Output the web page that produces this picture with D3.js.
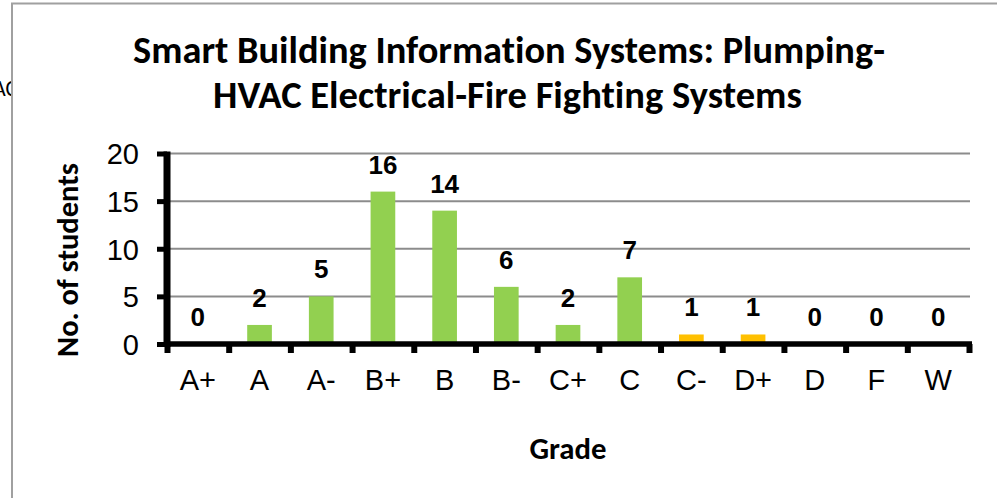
<!DOCTYPE html>
<html>
<head>
<meta charset="utf-8">
<script src="https://cdn.jsdelivr.net/npm/d3@7"></script>
<style>
  html, body { margin: 0; padding: 0; background: #fff; }
  svg { display: block; }
  text { font-variant-ligatures: none; font-feature-settings: "liga" 0; }
</style>
</head>
<body>
<svg id="chart" width="997" height="498"></svg>
<script>
// ---- data ----
const grades = ["A+", "A", "A-", "B+", "B", "B-", "C+", "C", "C-", "D+", "D", "F", "W"];
const counts = [0, 2, 5, 16, 14, 6, 2, 7, 1, 1, 0, 0, 0];
const yTicks = [0, 5, 10, 15, 20];
const orangeGrades = ["C-", "D+"];
const titleLines = ["Smart Building Information Systems: Plumping-", "HVAC Electrical-Fire Fighting Systems"];
const yTitle = "No. of students";
const xTitle = "Grade";

// ---- layout ----
const svg = d3.select("#chart");
const plotLeft = 167, plotRight = 969, plotTop = 153.5, plotBottom = 344;
const green = "#92D050", orange = "#FFC000";
const axisFont = "'Liberation Sans', Arial, sans-serif";
const titleFont = "Carlito, Lato, 'Open Sans', sans-serif";

function fitWidth(sel, target) {
  const base = parseFloat(sel.attr("font-size"));
  const w = sel.node().getComputedTextLength();
  sel.attr("font-size", base * target / w);
}

// stray clipped text at far left (partly hidden behind the chart frame, as in the reference)
svg.append("text").attr("x", -7).attr("y", 96)
  .attr("font-family", titleFont).attr("font-size", 22).attr("fill", "#000").text("AC");
svg.append("rect").attr("x", 12).attr("y", 0).attr("width", 985).attr("height", 498).attr("fill", "#fff");

// border
svg.append("path").attr("d", "M12,498 L12,3.5 L997,3.5")
  .attr("fill", "none").attr("stroke", "#a0a0a0").attr("stroke-width", 2);

const x = d3.scaleBand().domain(grades).range([plotLeft, plotRight]).paddingInner(0.6).paddingOuter(0.3);
const xEdge = d3.scaleLinear().domain([0, grades.length]).range([plotLeft, plotRight]);
const y = d3.scaleLinear().domain([0, 20]).range([plotBottom, plotTop]);

// gridlines
svg.append("g").selectAll("line").data(yTicks.filter(d => d > 0)).join("line")
  .attr("x1", plotLeft).attr("x2", plotRight + 1)
  .attr("y1", d => y(d)).attr("y2", d => y(d))
  .attr("stroke", "#8c8c8c").attr("stroke-width", 2);

// bars
const data = grades.map((g, i) => ({ g, v: counts[i] }));
svg.append("g").selectAll("rect").data(data).join("rect")
  .attr("x", d => x(d.g)).attr("width", x.bandwidth())
  .attr("y", d => y(d.v)).attr("height", d => y(0) - y(d.v))
  .attr("fill", d => orangeGrades.includes(d.g) ? orange : green);

// value labels
svg.append("g").selectAll("text").data(data).join("text")
  .attr("x", d => x(d.g) + x.bandwidth() / 2)
  .attr("y", d => y(d.v) - 18)
  .attr("text-anchor", "middle")
  .attr("font-family", axisFont).attr("font-weight", "bold").attr("font-size", 26)
  .attr("fill", "#000")
  .text(d => d.v);

// y axis
const yAxis = svg.append("g").attr("transform", `translate(${plotLeft},0)`)
  .call(d3.axisLeft(y).tickValues(yTicks).tickSize(10).tickPadding(18));
yAxis.select(".domain").attr("stroke", "#000").attr("stroke-width", 7)
  .attr("d", `M0,${plotTop - 2}V${plotBottom + 3}`);
yAxis.selectAll(".tick line").attr("stroke", "#000").attr("stroke-width", 5);
yAxis.selectAll(".tick text").attr("font-family", axisFont).attr("font-size", 29).attr("fill", "#000")
  .attr("dy", "0.36em");

// x axis edges (tick marks between categories)
const xAxisEdges = svg.append("g").attr("transform", `translate(0,${plotBottom})`)
  .call(d3.axisBottom(xEdge).tickValues(d3.range(grades.length + 1)).tickFormat("").tickSize(9));
xAxisEdges.select(".domain").attr("stroke", "#000").attr("stroke-width", 5.5)
  .attr("d", `M${plotLeft - 3},0H${plotRight + 3}`);
xAxisEdges.selectAll(".tick line").attr("stroke", "#000").attr("stroke-width", 6);

// x labels
const xAxis = svg.append("g").attr("transform", `translate(0,${plotBottom})`)
  .call(d3.axisBottom(x).tickSize(0).tickPadding(36));
xAxis.select(".domain").remove();
xAxis.selectAll(".tick text").attr("font-family", axisFont).attr("font-size", 29).attr("fill", "#000")
  .attr("dy", "0.36em");

// titles
const t1 = svg.append("text").attr("x", 509).attr("y", 63).attr("text-anchor", "middle")
  .attr("font-family", titleFont).attr("font-weight", "bold").attr("font-size", 36).attr("fill", "#000")
  .text(titleLines[0]);
fitWidth(t1, 752);
const t2 = svg.append("text").attr("x", 507.5).attr("y", 108).attr("text-anchor", "middle")
  .attr("font-family", titleFont).attr("font-weight", "bold").attr("font-size", 36).attr("fill", "#000")
  .text(titleLines[1]);
fitWidth(t2, 589);

const yt = svg.append("text").attr("transform", "translate(78,260) rotate(-90)").attr("text-anchor", "middle")
  .attr("font-family", titleFont).attr("font-weight", "bold").attr("font-size", 28).attr("fill", "#000")
  .text(yTitle);
fitWidth(yt, 194);

const xt = svg.append("text").attr("x", 568).attr("y", 459).attr("text-anchor", "middle")
  .attr("font-family", titleFont).attr("font-weight", "bold").attr("font-size", 26).attr("fill", "#000")
  .text(xTitle);
fitWidth(xt, 77);
</script>
</body>
</html>
